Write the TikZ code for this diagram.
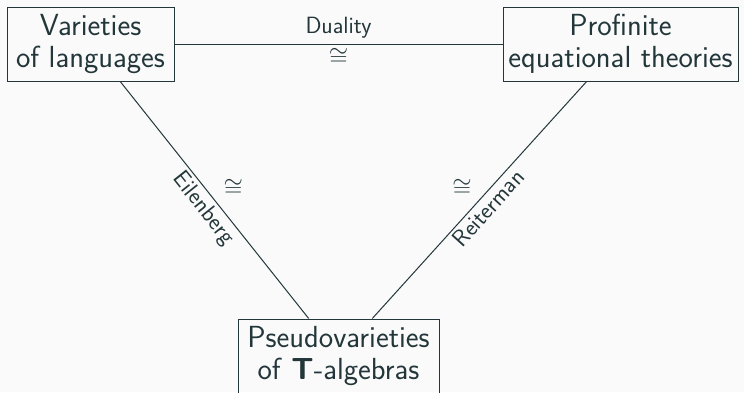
\documentclass[tikz,border=0pt]{standalone}
\definecolor{mdark}{HTML}{23373B}
\definecolor{mbg}{HTML}{FAFAFA}
\tikzset{
  box/.style={draw=mdark, line width=1pt, text=mdark, align=center, inner sep=0pt,
    minimum height=74pt, font=\fontsize{30.5}{32.5}\selectfont\sffamily},
  edge/.style={draw=mdark, line width=1pt},
  lab/.style={text=mdark, font=\fontsize{23.5}{26}\selectfont\sffamily},
}
\begin{document}
\begin{tikzpicture}[x=1pt,y=-1pt]
\fill[mbg] (0,0) rectangle (744,392);
\useasboundingbox (0,0) rectangle (744,392);
\node[box, minimum width=167pt] (a) at (90.5,44) {Varieties\\of languages};
\node[box, minimum width=235pt] (b) at (620.5,44) {Profinite\\equational theories};
\node[box, minimum width=201pt] (c) at (338.5,356) {Pseudovarieties\\of \textbf{T}-algebras};
\draw[edge] (a) -- node[lab, midway, above, inner sep=5pt] {Duality}
                   node[lab, midway, below, inner sep=4pt] {$\cong$} (b);
\draw[edge] (a) -- node[lab, midway, sloped, below, inner sep=3pt] {Eilenberg}
                   node[lab, pos=0.45, right, inner sep=18pt] {$\cong$} (c);
\draw[edge] (c) -- node[lab, midway, sloped, below, inner sep=3pt] {Reiterman}
                   node[lab, pos=0.55, left, inner sep=18pt] {$\cong$} (b);
\end{tikzpicture}
\end{document}
